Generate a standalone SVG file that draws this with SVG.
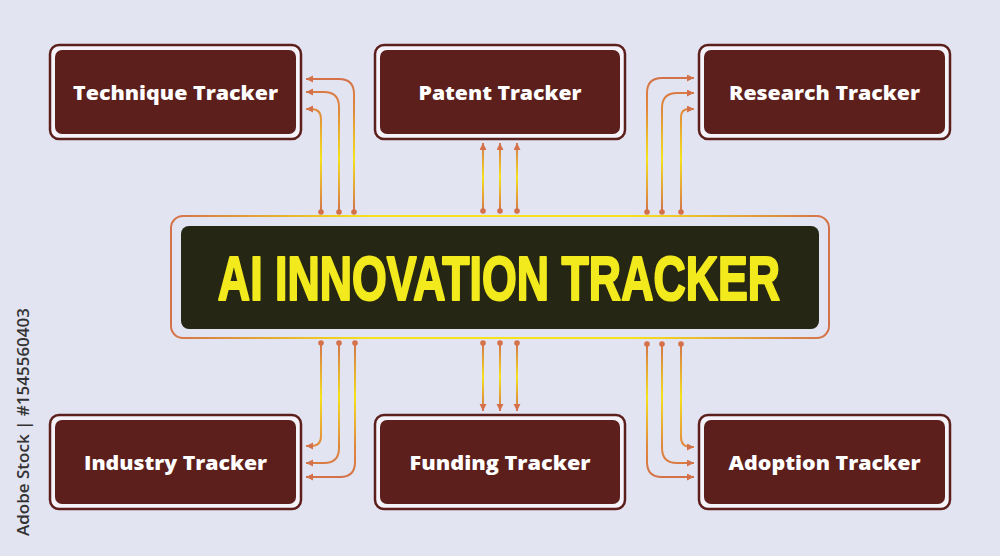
<svg xmlns="http://www.w3.org/2000/svg" width="1000" height="556" viewBox="0 0 1000 556">
<defs>
<style>
.box-outer{fill:#f3f3f9;stroke:#5c1f1c;stroke-width:2.5}
.box-inner{fill:#5c1f1c}
.label{font-family:"Open Sans","Liberation Sans",sans-serif;font-weight:800;font-size:19px;fill:#ffffff;text-anchor:middle}
.conn{fill:none;stroke-width:2}
.dot{fill:#d4714a}
</style>
<marker id="arr" markerUnits="userSpaceOnUse" markerWidth="8" markerHeight="8" refX="7" refY="3.5" orient="auto">
<path d="M0,0 L7,3.5 L0,7 z" fill="#d4714a"/>
</marker>
<linearGradient id="gTop" gradientUnits="userSpaceOnUse" x1="0" y1="78" x2="0" y2="212">
<stop offset="0" stop-color="#d4714a"/>
<stop offset="0.25" stop-color="#e08a3c"/>
<stop offset="0.6" stop-color="#f5e21c"/>
<stop offset="1" stop-color="#d4714a"/>
</linearGradient>
<linearGradient id="gPat" gradientUnits="userSpaceOnUse" x1="0" y1="143" x2="0" y2="212">
<stop offset="0" stop-color="#d4714a"/>
<stop offset="0.5" stop-color="#f5e21c"/>
<stop offset="1" stop-color="#d4714a"/>
</linearGradient>
<linearGradient id="gBot" gradientUnits="userSpaceOnUse" x1="0" y1="343" x2="0" y2="478">
<stop offset="0" stop-color="#d4714a"/>
<stop offset="0.4" stop-color="#f5e21c"/>
<stop offset="0.75" stop-color="#e08a3c"/>
<stop offset="1" stop-color="#d4714a"/>
</linearGradient>
<linearGradient id="gFun" gradientUnits="userSpaceOnUse" x1="0" y1="343" x2="0" y2="411">
<stop offset="0" stop-color="#d4714a"/>
<stop offset="0.5" stop-color="#f5e21c"/>
<stop offset="1" stop-color="#d4714a"/>
</linearGradient>
<linearGradient id="gCen" gradientUnits="userSpaceOnUse" x1="171" y1="0" x2="829" y2="0">
<stop offset="0" stop-color="#d4714a"/>
<stop offset="0.3" stop-color="#f5e21c"/>
<stop offset="0.7" stop-color="#f5e21c"/>
<stop offset="1" stop-color="#d4714a"/>
</linearGradient>
</defs>
<rect x="0" y="0" width="1000" height="556" fill="#e3e4f1"/>
<text transform="translate(29,422) rotate(-90)" font-family="'Open Sans','Liberation Sans',sans-serif" font-weight="600" font-size="17" fill="#333333" text-anchor="middle">Adobe Stock | #1545560403</text>

<g id="connectors">
<g stroke="url(#gTop)" class="conn" fill="none" marker-end="url(#arr)">
<path d="M354,212 V94 Q354,79 339,79 H306"/>
<path d="M339,212 V107 Q339,92 324,92 H306"/>
<path d="M321,212 V119 Q321,109 311,109 H306"/>
<path d="M647,212 V93 Q647,78 662,78 H694"/>
<path d="M662,212 V108 Q662,93 677,93 H694"/>
<path d="M681,212 V117 Q681,109 689,109 H694"/>
</g>
<g stroke="url(#gPat)" class="conn" fill="none" marker-end="url(#arr)">
<path d="M483,211 V143"/>
<path d="M500,211 V143"/>
<path d="M517,211 V143"/>
</g>
<g stroke="url(#gFun)" class="conn" fill="none" marker-end="url(#arr)">
<path d="M483,343 V411"/>
<path d="M500,343 V411"/>
<path d="M517,343 V411"/>
</g>
<g stroke="url(#gBot)" class="conn" fill="none" marker-end="url(#arr)">
<path d="M321,343 V436 Q321,446 311,446 H306"/>
<path d="M339,343 V448 Q339,463 324,463 H306"/>
<path d="M355,343 V462 Q355,477 340,477 H306"/>
<path d="M681,343 V437 Q681,447 691,447 H694"/>
<path d="M662,343 V448 Q662,463 677,463 H694"/>
<path d="M647,343 V462 Q647,477 662,477 H694"/>
</g>
<g class="dot">
<circle cx="321" cy="212" r="2.8"/><circle cx="339" cy="212" r="2.8"/><circle cx="354" cy="212" r="2.8"/>
<circle cx="483" cy="211" r="2.8"/><circle cx="500" cy="211" r="2.8"/><circle cx="517" cy="211" r="2.8"/>
<circle cx="647" cy="212" r="2.8"/><circle cx="662" cy="212" r="2.8"/><circle cx="681" cy="212" r="2.8"/>
<circle cx="321" cy="343" r="2.8"/><circle cx="339" cy="343" r="2.8"/><circle cx="355" cy="343" r="2.8"/>
<circle cx="483" cy="343" r="2.8"/><circle cx="500" cy="343" r="2.8"/><circle cx="517" cy="343" r="2.8"/>
<circle cx="647" cy="344" r="2.8"/><circle cx="662" cy="344" r="2.8"/><circle cx="681" cy="344" r="2.8"/>
</g>
</g>

<g id="center">
<rect x="171" y="216" width="658" height="122" rx="12" fill="none" stroke="url(#gCen)" stroke-width="2"/>
<rect x="181" y="226" width="638" height="103" rx="8" fill="#262614"/>
<text transform="translate(499,300) scale(0.71,1)" x="0" y="0" font-family="'Liberation Sans',Arial,sans-serif" font-weight="700" font-size="63" fill="#f2ea1d" stroke="#f2ea1d" stroke-width="2.2" stroke-linejoin="round" text-anchor="middle">AI INNOVATION TRACKER</text>
</g>

<g id="technique">
<rect class="box-outer" x="50" y="45" width="251" height="94" rx="9"/>
<rect class="box-inner" x="55" y="50" width="241" height="84" rx="7"/>
<text class="label" x="175.5" y="100" textLength="205" lengthAdjust="spacingAndGlyphs">Technique Tracker</text>
</g>
<g id="patent">
<rect class="box-outer" x="375" y="45" width="250" height="94" rx="9"/>
<rect class="box-inner" x="380" y="50" width="240" height="84" rx="7"/>
<text class="label" x="500" y="100" textLength="163" lengthAdjust="spacingAndGlyphs">Patent Tracker</text>
</g>
<g id="research">
<rect class="box-outer" x="699" y="45" width="251" height="94" rx="9"/>
<rect class="box-inner" x="704" y="50" width="241" height="84" rx="7"/>
<text class="label" x="824.5" y="100" textLength="191" lengthAdjust="spacingAndGlyphs">Research Tracker</text>
</g>
<g id="industry">
<rect class="box-outer" x="50" y="415" width="251" height="94" rx="9"/>
<rect class="box-inner" x="55" y="420" width="241" height="84" rx="7"/>
<text class="label" x="175.5" y="470" textLength="183" lengthAdjust="spacingAndGlyphs">Industry Tracker</text>
</g>
<g id="funding">
<rect class="box-outer" x="375" y="415" width="250" height="94" rx="9"/>
<rect class="box-inner" x="380" y="420" width="240" height="84" rx="7"/>
<text class="label" x="500" y="470" textLength="181" lengthAdjust="spacingAndGlyphs">Funding Tracker</text>
</g>
<g id="adoption">
<rect class="box-outer" x="699" y="415" width="251" height="94" rx="9"/>
<rect class="box-inner" x="704" y="420" width="241" height="84" rx="7"/>
<text class="label" x="824.5" y="470" textLength="192" lengthAdjust="spacingAndGlyphs">Adoption Tracker</text>
</g>
</svg>
